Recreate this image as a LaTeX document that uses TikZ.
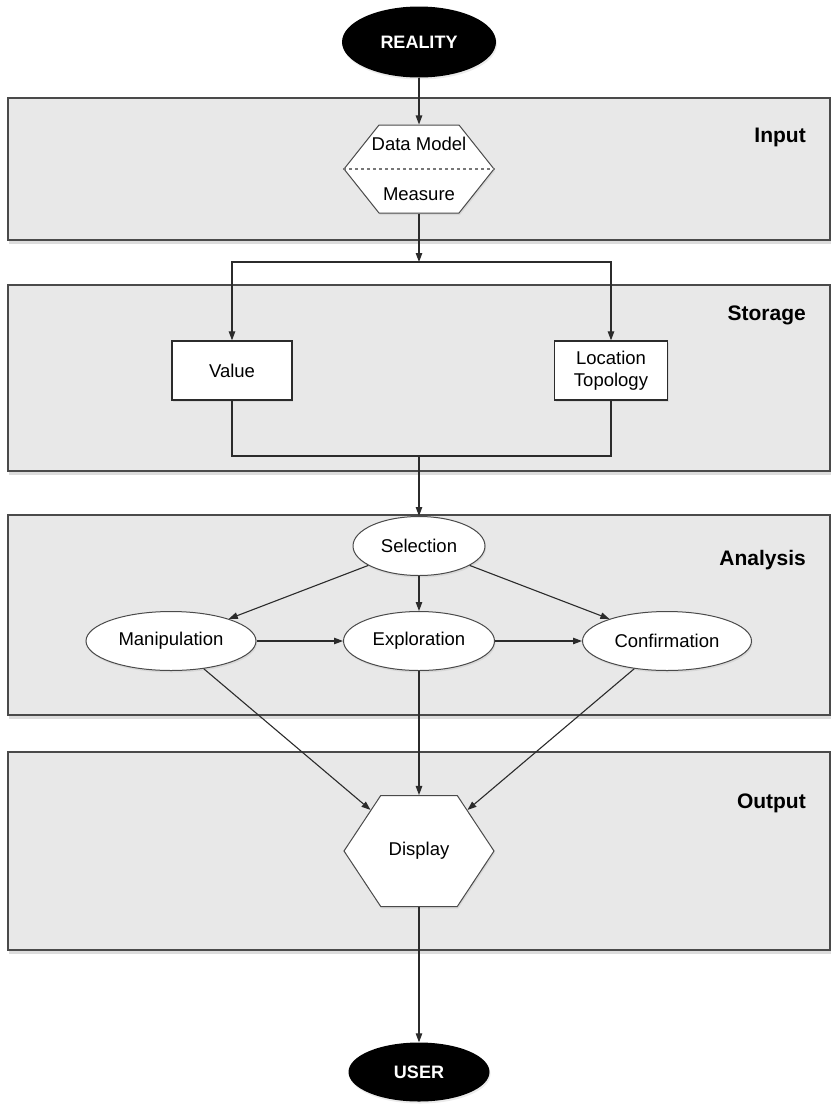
\documentclass[tikz,border=0pt]{standalone}
\usepackage{fontspec}
\setmainfont{Liberation Sans}
\usepackage{tikz}
\usetikzlibrary{arrows.meta,shapes.geometric,shapes.symbols,shadows}
\definecolor{ink}{HTML}{2B2B2B}
\definecolor{rim}{HTML}{4A4A4A}
\definecolor{band}{HTML}{E8E8E8}
\definecolor{shade}{HTML}{9A9A9A}
\newcommand{\reg}{\fontsize{18.5}{22}\selectfont}
\tikzset{>={Triangle[length=9pt,width=6.5pt]},
  arr/.style={draw=ink,line width=1.1pt,->},
  wire/.style={draw=ink,line width=1.1pt},
  panel/.style={draw=rim,fill=band,line width=1.8pt,
    drop shadow={shadow xshift=1pt,shadow yshift=-4pt,opacity=0.35,fill=shade}},
  soft/.style={drop shadow={shadow xshift=1pt,shadow yshift=-2pt,opacity=0.2,fill=shade}},
  term/.style={ellipse,fill=black,text=white,font=\fontsize{18}{21}\selectfont\bfseries,
    minimum width=154pt,minimum height=71pt,inner sep=0pt,soft},
  proc/.style={ellipse,draw=rim,fill=white,line width=1pt,font=\reg,inner sep=0pt,
    minimum height=59pt,soft},
  store/.style={rectangle,draw=ink,fill=white,line width=1.3pt,font=\reg,align=center,
    minimum width=120pt,minimum height=59pt,inner sep=0pt,soft},
  hexa/.style={signal,signal to=east and west,draw=rim,fill=white,line width=1pt,
    font=\reg,align=center,inner sep=0pt,soft},
  tag/.style={anchor=east,inner sep=0pt,font=\fontsize{21}{25}\selectfont\bfseries}}

\begin{document}
\begin{tikzpicture}[x=1pt,y=-1pt]
  \useasboundingbox (0,0) rectangle (833,1106);
  \draw[panel] (8,98) rectangle (830,240);
  \draw[panel] (8,285) rectangle (830,471);
  \draw[panel] (8,515) rectangle (830,715);
  \draw[panel] (8,752) rectangle (830,950);
  \node[tag] (input) at (806,137) {Input};
  \node[tag] (storage) at (806,315) {Storage};
  \node[tag] (analysis) at (806,560) {Analysis};
  \node[tag] (output) at (806,803) {Output};

  \node[term] (reality) at (419,42) {REALITY};
  \node[hexa,signal pointer angle=103,minimum width=150pt,minimum height=88pt] (model) at (419,169)
    {\makebox[0pt]{Data Model}\\[28pt]\makebox[0pt]{Measure}};
  \draw[dashed,draw=rim!75,line width=1.2pt] (model.west) -- (model.east);
  \coordinate (split) at (419,262);
  \node[store] (value) at (232,370.5) {Value};
  \node[store,minimum width=113pt] (place) at (611,370.5) {Location\\Topology};
  \coordinate (merge) at (419,456);
  \node[proc,minimum width=132pt] (select) at (419,546) {Selection};
  \node[proc,minimum width=170pt] (manip) at (171,641) {Manipulation};
  \node[proc,minimum width=151pt] (explore) at (419,641) {Exploration};
  \node[proc,minimum width=169pt] (confirm) at (667,641) {Confirmation};
  \node[hexa,signal pointer angle=113,minimum width=150pt,minimum height=111pt] (display) at (419,851)
    {\makebox[0pt]{Display}};
  \node[term,minimum width=141pt,minimum height=59pt] (user) at (419,1072) {USER};

  \draw[arr] (reality) -- (model);
  \draw[arr] (model) -- (split);
  \draw[arr] (split) -| (value);
  \draw[arr] (split) -| (place);
  \draw[wire] (value) |- (merge);
  \draw[wire] (place) |- (merge);
  \draw[arr] (merge) -- (select);
  \draw[arr] (select) -- (manip);
  \draw[arr] (select) -- (explore);
  \draw[arr] (select) -- (confirm);
  \draw[arr] (manip) -- (explore);
  \draw[arr] (explore) -- (confirm);
  \draw[arr] (manip) -- (display);
  \draw[arr] (explore) -- (display);
  \draw[arr] (confirm) -- (display);
  \draw[arr] (display) -- (user);
\end{tikzpicture}
\end{document}
